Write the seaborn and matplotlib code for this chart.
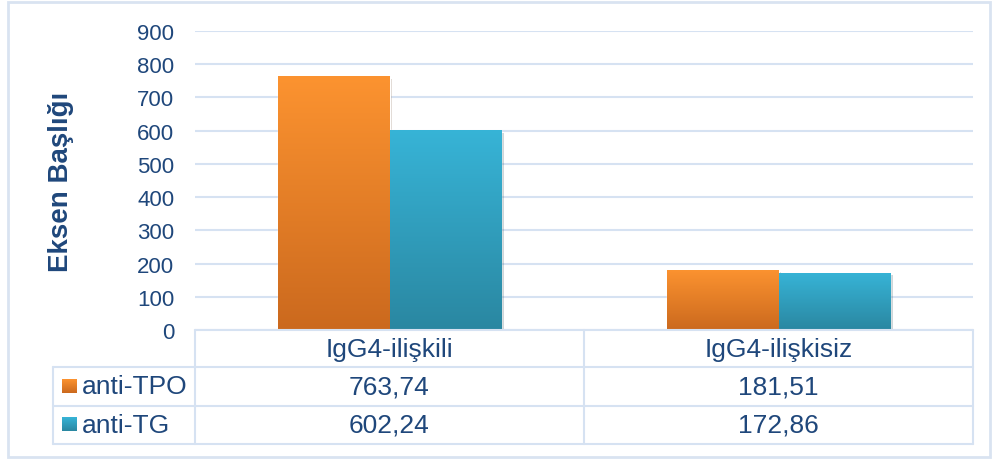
import numpy as np
import pandas as pd
import matplotlib.pyplot as plt
import seaborn as sns
import matplotlib.patheffects as pe
from matplotlib.colors import LinearSegmentedColormap
from matplotlib.transforms import blended_transform_factory
from matplotlib.lines import Line2D
from matplotlib.patches import Rectangle

# data
categories = ["IgG4-ilişkili", "IgG4-ilişkisiz"]
series = ["anti-TPO", "anti-TG"]
anti_tpo = [763.74, 181.51]
anti_tg = [602.24, 172.86]
yticks = [0, 100, 200, 300, 400, 500, 600, 700, 800, 900]

top_colors = {"anti-TPO": "#fc9330", "anti-TG": "#37b4d7"}
bottom_colors = {"anti-TPO": "#cb691e", "anti-TG": "#2a87a1"}
text_color = "#1f477b"
line_color = "#d6e2f2"

df = pd.DataFrame({
    "group": categories * 2,
    "series": [s for s in series for _ in categories],
    "value": anti_tpo + anti_tg,
})

sns.set_theme(style="white")
plt.rcParams["font.family"] = ["Liberation Sans", "DejaVu Sans"]

W, H = 997, 460
fig = plt.figure(figsize=(W / 100, H / 100), dpi=100)
ax = fig.add_axes([195 / W, 1 - 331 / H, 778 / W, 299 / H])

sns.barplot(data=df, x="group", y="value", hue="series", order=categories,
            hue_order=series, palette=top_colors, width=0.575, saturation=1,
            legend=False, ax=ax)

# vertical gradient on each bar, like the Excel fill
grad = np.linspace(0, 1, 256).reshape(-1, 1)
cmaps = {s: LinearSegmentedColormap.from_list(s, [bottom_colors[s], top_colors[s]]) for s in series}
for name, cont in zip(series, ax.containers):
    for bar in cont:
        bar.set_path_effects([pe.SimplePatchShadow(offset=(2, -2), alpha=0.2), pe.Normal()])
        x0, y0 = bar.get_xy()
        im = ax.imshow(grad, extent=[x0, x0 + bar.get_width(), y0, y0 + bar.get_height()],
                       origin="lower", cmap=cmaps[name], aspect="auto",
                       zorder=bar.get_zorder() + 0.1)
        im.set_clip_path(bar)

ax.set_xlim(-0.5, 1.5)
ax.set_ylim(0, 900)
ax.set_yticks(yticks)
ax.set_xticks([])
ax.set_xlabel("")
ax.yaxis.grid(True, color=line_color, lw=1.5)
ax.set_axisbelow(True)
sns.despine(ax=ax, left=True, bottom=True)
ax.tick_params(axis="y", length=0, pad=15, labelsize=16, labelcolor=text_color)
ax.set_ylabel("Eksen Başlığı", fontsize=20, fontweight="bold", color=text_color)
ax.yaxis.set_label_coords(-0.155, 0.5)

# data table under the plot
def fy(py):
    return 1 - py / H

tr = blended_transform_factory(ax.transData, fig.transFigure)
trf = fig.transFigure
lk = dict(color=line_color, lw=1.5)
fig.add_artist(Line2D([195 / W, 973 / W], [fy(331), fy(331)], transform=trf, **lk))
for py in [368, 407, 445]:
    fig.add_artist(Line2D([53 / W, 973 / W], [fy(py), fy(py)], transform=trf, **lk))
fig.add_artist(Line2D([53 / W, 53 / W], [fy(368), fy(445)], transform=trf, **lk))
for xb in [-0.5, 0.5, 1.5]:
    fig.add_artist(Line2D([xb, xb], [fy(331), fy(445)], transform=tr, **lk))

tsize = 19
row_y = [fy(387.5), fy(426)]
for i, cat in enumerate(categories):
    fig.text(i, fy(350), cat, transform=tr, ha="center", va="center",
             fontsize=tsize, color=text_color)
for r, (name, vals) in enumerate(zip(series, [anti_tpo, anti_tg])):
    for i, v in enumerate(vals):
        fig.text(i, row_y[r], f"{v:.2f}".replace(".", ","), transform=tr,
                 ha="center", va="center", fontsize=tsize, color=text_color)
    fig.text(82 / W, row_y[r], name, ha="left", va="center", fontsize=tsize, color=text_color)
    key_top = 380 + r * 38
    kax = fig.add_axes([62 / W, fy(key_top + 14), 15 / W, 14 / H])
    kax.imshow(grad, origin="lower", cmap=cmaps[name], aspect="auto")
    kax.axis("off")

fig.add_artist(Rectangle((8 / W, fy(458)), 982 / W, 455 / H, transform=trf,
                         fill=False, edgecolor="#d9e3f1", lw=2))

fig.savefig("out.png", dpi=100)
